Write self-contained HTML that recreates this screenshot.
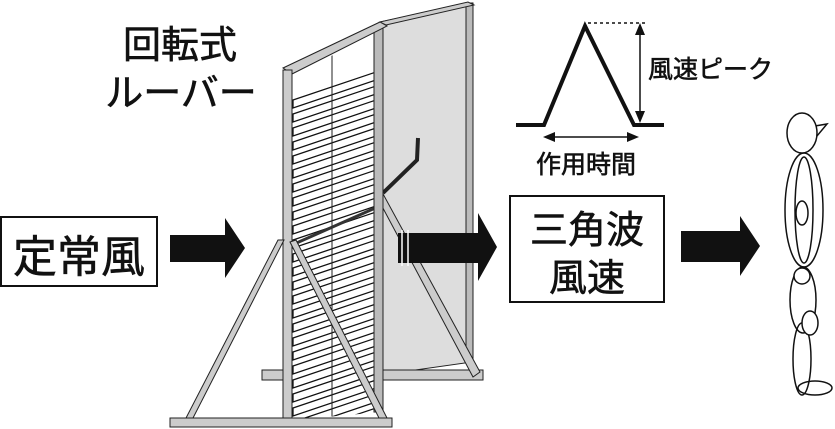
<!DOCTYPE html>
<html><head><meta charset="utf-8"><style>
html,body{margin:0;padding:0;background:#fff;width:835px;height:429px;overflow:hidden}
svg{display:block}
text{font-family:"Liberation Sans","Noto Sans CJK JP",sans-serif;fill:#111;stroke:#111;stroke-width:0.6}
.s{fill:#fff;stroke:#111;stroke-width:1.3}
</style></head><body>
<svg width="835" height="429" viewBox="0 0 835 429" xmlns="http://www.w3.org/2000/svg">
<defs>
<clipPath id="lv"><polygon points="292,76 382,30 382,412 292,420"/></clipPath>
</defs>
<text x="180" y="58" font-size="38" text-anchor="middle">回転式</text>
<text x="181" y="106" font-size="38" text-anchor="middle">ルーバー</text>
<rect x="1" y="217" width="156" height="69" fill="#fff" stroke="#111" stroke-width="2"/>
<text x="79" y="272" font-size="44" text-anchor="middle">定常風</text>
<rect x="510" y="196" width="154" height="106" fill="#fff" stroke="#111" stroke-width="2"/>
<text x="587" y="243" font-size="38" text-anchor="middle">三角波</text>
<text x="587" y="291" font-size="38" text-anchor="middle">風速</text>
<polyline points="516,125 544,125 585,26 634,125 664,125" fill="none" stroke="#111" stroke-width="4"/>
<line x1="588" y1="23" x2="646" y2="23" stroke="#111" stroke-width="1.5" stroke-dasharray="3,3"/>
<line x1="640" y1="30" x2="640" y2="116" stroke="#111" stroke-width="1.5"/>
<polygon points="640,23 635,35 645,35" fill="#111"/>
<polygon points="640,123 635,111 645,111" fill="#111"/>
<line x1="550" y1="137" x2="632" y2="137" stroke="#111" stroke-width="1.5"/>
<polygon points="543,137 555,132 555,142" fill="#111"/>
<polygon points="639,137 627,132 627,142" fill="#111"/>
<text x="648" y="78" font-size="25">風速ピーク</text>
<text x="586" y="173" font-size="25" text-anchor="middle">作用時間</text>
<polygon points="170,235 225,235 225,218 245,248 225,278 225,262 170,262" fill="#111"/>
<polygon points="681,231 740,231 740,216 760,246 740,276 740,262 681,262" fill="#111"/>
<polygon points="380,22 472,3 472,362 380,375" fill="#ddd" stroke="#222" stroke-width="1"/>
<rect x="466" y="3" width="7" height="360" fill="#bbb" stroke="#222" stroke-width="1"/>
<polygon points="380,22 468,2 474,5 386,25" fill="#ccc" stroke="#222" stroke-width="1"/>
<rect x="262" y="370" width="221" height="10" fill="#ccc" stroke="#222" stroke-width="1"/>
<polygon points="376,195 382,192 480,372 473,377" fill="#ccc" stroke="#222" stroke-width="1"/>
<polyline points="383,193 417,160 418,138" fill="none" stroke="#222" stroke-width="4"/>
<polygon points="398,233 478,233 478,213 497,247 478,281 478,263 398,263" fill="#111"/>
<line x1="402" y1="230" x2="402" y2="266" stroke="#fff" stroke-width="1.5"/>
<line x1="408" y1="230" x2="408" y2="266" stroke="#fff" stroke-width="1.5"/>
<rect x="292" y="30" width="90" height="390" fill="#fff"/>
<g clip-path="url(#lv)">
<polygon class="s" points="293,100 382,70 382,78 293,108"/>
<polygon class="s" points="293,114 382,84 382,92 293,122"/>
<polygon class="s" points="293,128 382,98 382,106 293,136"/>
<polygon class="s" points="293,142 382,112 382,120 293,150"/>
<polygon class="s" points="293,156 382,126 382,134 293,164"/>
<polygon class="s" points="293,170 382,140 382,148 293,178"/>
<polygon class="s" points="293,184 382,154 382,162 293,192"/>
<polygon class="s" points="293,198 382,168 382,176 293,206"/>
<polygon class="s" points="293,212 382,182 382,190 293,220"/>
<polygon class="s" points="293,226 382,196 382,204 293,234"/>
<polygon class="s" points="293,240 382,210 382,218 293,248"/>
<polygon class="s" points="293,254 382,224 382,232 293,262"/>
<polygon class="s" points="293,268 382,238 382,246 293,276"/>
<polygon class="s" points="293,282 382,252 382,260 293,290"/>
<polygon class="s" points="293,296 382,266 382,274 293,304"/>
<polygon class="s" points="293,310 382,280 382,288 293,318"/>
<polygon class="s" points="293,324 382,294 382,302 293,332"/>
<polygon class="s" points="293,338 382,308 382,316 293,346"/>
<polygon class="s" points="293,352 382,322 382,330 293,360"/>
<polygon class="s" points="293,366 382,336 382,344 293,374"/>
<polygon class="s" points="293,380 382,350 382,358 293,388"/>
<polygon class="s" points="293,394 382,364 382,372 293,402"/>
<polygon class="s" points="293,408 382,378 382,386 293,416"/>
<polygon class="s" points="293,422 382,392 382,400 293,430"/>
<polygon class="s" points="293,436 382,406 382,414 293,444"/>
<line x1="332" y1="40" x2="332" y2="420" stroke="#222" stroke-width="1"/>
<line x1="292" y1="245" x2="382" y2="205" stroke="#333" stroke-width="3"/>
</g>
<rect x="374" y="28" width="9" height="384" fill="#bbb" stroke="#222" stroke-width="1"/>
<polygon points="283,68 380,22 387,26 292,74" fill="#ccc" stroke="#222" stroke-width="1"/>
<rect x="283" y="70" width="9" height="350" fill="#ccc" stroke="#222" stroke-width="1"/>
<polygon points="278,240 284,240 193,418 186,418" fill="#ccc" stroke="#222" stroke-width="1"/>
<polygon points="290,242 296,240 387,418 379,418" fill="#ccc" stroke="#222" stroke-width="1"/>
<rect x="170" y="418" width="222" height="9" fill="#ccc" stroke="#222" stroke-width="1"/>
<g fill="none" stroke="#111" stroke-width="1.5">
<polygon points="815,126 827,124 817,136" fill="#fff"/>
<ellipse cx="804" cy="210" rx="19" ry="57"/>
<ellipse cx="804" cy="210" rx="9" ry="53"/>
<ellipse cx="802" cy="213" rx="6" ry="12"/>
<ellipse cx="803" cy="300" rx="13" ry="33"/>
<ellipse cx="802" cy="359" rx="9" ry="36"/>
<ellipse cx="815" cy="388" rx="17" ry="7"/>
<ellipse cx="802" cy="133" rx="15" ry="20" fill="#fff"/>
<circle cx="802" cy="276" r="8" fill="#fff"/>
<ellipse cx="810" cy="323" rx="8" ry="12" fill="#fff"/>
</g>
</svg>
</body></html>
